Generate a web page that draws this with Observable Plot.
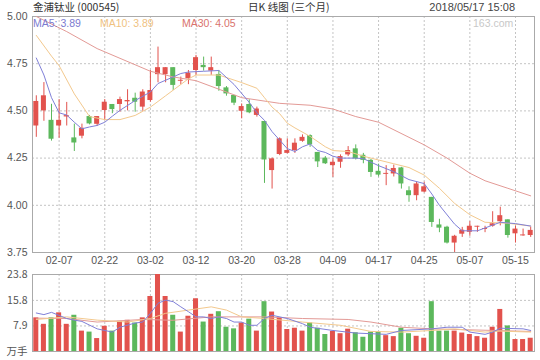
<!DOCTYPE html>
<html><head><meta charset="utf-8">
<script src="https://cdn.jsdelivr.net/npm/d3@7"></script>
<script src="https://cdn.jsdelivr.net/npm/@observablehq/plot@0.6"></script>
<style>
body{margin:0;background:#fff}
#chart{position:relative;width:540px;height:360px;background:#fff;font-family:"Liberation Sans","Noto Sans CJK SC",sans-serif;}
.t{position:absolute;white-space:nowrap;font-size:11px;line-height:14px;z-index:2}
#price,#vol{position:absolute;left:0}
</style></head>
<body>
<div id="chart">
  <div class="t" style="left:33px;top:0;color:#333;font-family:'Noto Sans CJK SC','Liberation Sans',sans-serif;font-size:10.5px">金浦钛业 (000545)</div>
  <div class="t" style="left:248px;top:0;color:#333;font-family:'Noto Sans CJK SC','Liberation Sans',sans-serif;font-size:10.5px">日K 线图 (三个月)</div>
  <div class="t" style="right:25px;top:0;color:#444">2018/05/17 15:08</div>
  <div class="t" id="l5" style="left:33px;top:16px;color:#7b7bd0;font-size:10.5px"></div>
  <div class="t" id="l10" style="left:100px;top:16px;color:#f0c27f;font-size:10.5px"></div>
  <div class="t" id="l30" style="left:182px;top:16px;color:#d9736d;font-size:10.5px"></div>
  <div class="t" style="left:473px;top:16px;color:#c8c8c8;font-size:10.5px">163.com</div>
  <div id="price" style="top:0"></div>
  <div id="vol" style="top:268px"></div>
</div>
<script>
const dates = ["02-02","02-05","02-06","02-07","02-08","02-09","02-12","02-13","02-14","02-22","02-23","02-26","02-27","02-28",
"03-01","03-02","03-05","03-06","03-07","03-08","03-09","03-12","03-13","03-14","03-15","03-16","03-19","03-20","03-21","03-22","03-23","03-26","03-27","03-28","03-29","03-30",
"04-02","04-03","04-04","04-09","04-10","04-11","04-12","04-13","04-16","04-17","04-18","04-19","04-20","04-23","04-24","04-25","04-26","04-27",
"05-02","05-03","05-04","05-07","05-08","05-09","05-10","05-11","05-14","05-15","05-16","05-17"];
const xTickLabels = ["02-07","02-22","03-02","03-12","03-20","03-28","04-09","04-17","04-25","05-07","05-15"];
const priceTicks = [3.75, 4.00, 4.25, 4.50, 4.75, 5.00];
const volTicks = [0, 7.9, 15.8, 23.8];

const open  = [4.42,4.50,4.45,4.42,4.468,4.357,4.366,4.47,4.429,4.502,4.534,4.534,4.548,4.567,4.52,4.555,4.692,4.692,4.729,4.657,4.67,4.714,4.741,4.711,4.693,4.622,4.582,4.498,4.534,4.476,4.444,4.184,4.269,4.275,4.29,4.339,4.369,4.28,4.25,4.21,4.228,4.267,4.299,4.265,4.238,4.18,4.164,4.166,4.198,4.077,4.051,4.07,4.042,3.896,3.884,3.80,3.847,3.857,3.884,3.872,3.889,3.913,3.923,3.849,3.838,3.84];
const high  = [4.58,4.65,4.535,4.56,4.545,4.43,4.43,4.476,4.47,4.56,4.534,4.573,4.612,4.594,4.612,4.714,4.838,4.729,4.729,4.679,4.714,4.794,4.785,4.785,4.714,4.629,4.582,4.537,4.559,4.52,4.444,4.251,4.357,4.352,4.352,4.373,4.373,4.28,4.258,4.246,4.267,4.311,4.32,4.275,4.244,4.218,4.21,4.213,4.201,4.098,4.122,4.122,4.042,3.926,3.889,3.841,3.883,3.913,3.889,3.889,3.966,3.99,3.923,3.889,3.874,3.884];
const low   = [4.36,4.445,4.34,4.355,4.42,4.285,4.352,4.426,4.418,4.449,4.485,4.493,4.50,4.493,4.498,4.546,4.649,4.649,4.608,4.639,4.639,4.687,4.711,4.688,4.604,4.578,4.528,4.458,4.485,4.467,4.116,4.086,4.263,4.272,4.275,4.334,4.307,4.20,4.216,4.148,4.196,4.258,4.24,4.22,4.148,4.15,4.104,4.15,4.086,4.016,4.024,4.066,3.883,3.855,3.795,3.75,3.83,3.836,3.857,3.855,3.884,3.891,3.826,3.80,3.836,3.83];
const close = [4.55,4.58,4.35,4.45,4.475,4.33,4.408,4.431,4.47,4.546,4.507,4.56,4.555,4.546,4.60,4.608,4.729,4.729,4.635,4.662,4.70,4.782,4.729,4.729,4.629,4.59,4.541,4.523,4.49,4.51,4.24,4.246,4.352,4.29,4.329,4.36,4.32,4.23,4.22,4.228,4.258,4.29,4.246,4.238,4.174,4.16,4.169,4.195,4.113,4.051,4.113,4.098,3.909,3.879,3.80,3.836,3.868,3.889,3.889,3.877,3.902,3.945,3.84,3.874,3.843,3.867];
const volume = [10.4,8.4,10.4,11.95,8.4,11.2,6.3,6.0,4.0,7.8,6.3,9.3,9.65,8.8,10.4,17.0,23.8,17.0,11.2,6.0,10.9,16.3,9.1,11.5,12.3,7.5,7.0,8.8,10.0,6.3,15.4,12.2,10.5,6.8,7.2,6.3,8.8,7.2,5.25,6.2,5.5,6.9,5.8,4.4,6.0,6.0,4.9,4.6,7.2,5.5,4.7,4.1,15.4,6.3,6.3,6.3,5.7,5.25,4.6,4.1,7.5,13.0,7.9,3.7,3.7,4.1];

// moving-average lines: [day index, value]
const ma5 = [[0,4.78],[1,4.69],[2,4.57],[3,4.49],[4,4.478],[5,4.44],[6,4.405],[7,4.415],[8,4.423],[9,4.44],[10,4.472],[11,4.503],[13,4.555],[15,4.60],[16,4.645],[18,4.68],[19,4.698],[20,4.706],[22,4.71],[24,4.714],[26,4.64],[28,4.545],[29,4.49],[30,4.45],[31,4.39],[32,4.345],[33,4.30],[34,4.285],[35,4.31],[36,4.325],[37,4.29],[38,4.28],[39,4.26],[40,4.25],[42,4.25],[43,4.247],[45,4.21],[47,4.178],[49,4.136],[51,4.115],[52,4.06],[53,4.0],[55,3.90],[56,3.865],[58,3.865],[60,3.895],[61,3.91],[63,3.903],[65,3.89]];
const ma10 = [[0,4.90],[2,4.79],[3,4.74],[5,4.59],[7,4.47],[9,4.454],[11,4.454],[13,4.476],[15,4.52],[17,4.58],[20,4.67],[21,4.69],[24,4.69],[27,4.65],[29,4.62],[30,4.57],[31,4.52],[32,4.485],[33,4.435],[34,4.41],[36,4.365],[38,4.31],[39,4.29],[41,4.285],[43,4.26],[45,4.24],[47,4.22],[49,4.20],[51,4.16],[53,4.09],[55,4.01],[57,3.95],[59,3.91],[62,3.905],[65,3.89]];
const ma30 = [[0,5.00],[4,4.92],[8,4.83],[15,4.71],[18,4.68],[21,4.66],[27,4.57],[32,4.54],[36,4.53],[39,4.51],[42,4.47],[45,4.44],[51,4.32],[54,4.25],[57,4.17],[59,4.13],[62,4.09],[65,4.05]];
const vma5 = [[0,11.9],[1,11.4],[2,12.1],[4,10.2],[5,9.7],[6,9.3],[8,7.0],[9,6.5],[10,6.0],[11,7.5],[13,8.8],[14,9.1],[15,11.8],[16,14.9],[17,15.9],[18,15.4],[19,13.8],[20,12.3],[21,10.7],[22,10.7],[23,10.2],[24,10.7],[25,10.2],[26,9.1],[27,9.1],[28,8.1],[29,8.1],[30,10.2],[31,11.2],[33,10.2],[35,8.6],[36,7.5],[39,6.5],[42,5.7],[44,5.5],[46,5.3],[48,6.5],[52,7.0],[54,7.5],[56,7.5],[57,6.0],[59,5.3],[60,6.0],[61,7.2],[64,7.0],[65,6.5]];
const vma10 = [[0,9.9],[4,10.7],[8,9.7],[12,9.1],[15,10.2],[17,11.8],[20,12.8],[23,13.8],[25,12.8],[27,10.7],[30,10.2],[35,9.1],[40,8.1],[44,6.2],[48,6.0],[52,6.5],[55,7.0],[59,6.0],[61,6.3],[65,6.0]];
const vma30 = [[0,10.3],[4,10.2],[8,9.1],[14,9.9],[18,9.65],[23,10.7],[30,10.7],[35,10.2],[41,9.9],[44,9.1],[48,7.5],[52,7.0],[57,6.7],[65,6.2]];

const RED = "#e2524d", GREEN = "#5cb85c";
const C5 = "#8080d8", C10 = "#f3c98e", C30 = "#e39a96";
const candles = dates.map((d, i) => ({i, date: d, open: open[i], high: high[i], low: low[i], close: close[i], vol: volume[i], up: close[i] >= open[i]}));
const xTicks = xTickLabels.map(l => dates.indexOf(l));

document.getElementById("l5").textContent = "MA5: " + ma5[ma5.length-1][1].toFixed(2);
document.getElementById("l10").textContent = "MA10: " + ma10[ma10.length-1][1].toFixed(2);
document.getElementById("l30").textContent = "MA30: " + ma30[ma30.length-1][1].toFixed(2);

const style = {fontFamily: "'Liberation Sans','Noto Sans CJK SC',sans-serif", fontSize: "10.5px", color: "#555", background: "transparent", overflow: "visible"};
const grid = {stroke: "#c4c4c4", strokeOpacity: 1, strokeDasharray: "2,2"};
const xdom = [-0.5, 65.5];

const price = Plot.plot({
  width: 540, height: 270, marginTop: 16, marginBottom: 18, marginLeft: 32, marginRight: 6,
  style,
  x: {domain: xdom, axis: null, label: null},
  y: {domain: [3.75, 5.0], axis: null, label: null},
  color: {type: "identity"},
  marks: [
    Plot.gridY(priceTicks, grid),
    Plot.gridX(xTicks, grid),
    Plot.frame({stroke: "#aaa"}),
    Plot.axisY(priceTicks, {anchor: "left", label: null, tickSize: 0, tickPadding: 5, tickFormat: d => d.toFixed(2)}),
    Plot.axisX(xTicks, {anchor: "bottom", label: null, tickSize: 0, tickPadding: 4, tickFormat: i => dates[i]}),
    Plot.ruleX(candles, {x: "i", y1: "low", y2: "high", stroke: d => d.up ? RED : GREEN, strokeWidth: 1}),
    Plot.rect(candles, {x1: d => d.i - 0.33, x2: d => d.i + 0.33, y1: d => Math.min(d.open, d.close), y2: d => Math.max(d.open, d.close), fill: d => d.up ? RED : GREEN}),
    Plot.line(ma30, {x: d => d[0], y: d => d[1], stroke: C30, strokeWidth: 1, clip: true}),
    Plot.line(ma10, {x: d => d[0], y: d => d[1], stroke: C10, strokeWidth: 1, clip: true}),
    Plot.line(ma5, {x: d => d[0], y: d => d[1], stroke: C5, strokeWidth: 1, clip: true})
  ]
});
document.getElementById("price").appendChild(price);

const vol = Plot.plot({
  width: 540, height: 92, marginTop: 6, marginBottom: 9, marginLeft: 32, marginRight: 6,
  style,
  x: {domain: xdom, axis: null, label: null},
  y: {domain: [0, 23.8], axis: null, label: null},
  color: {type: "identity"},
  marks: [
    Plot.gridY(volTicks, grid),
    Plot.gridX(xTicks, grid),
    Plot.frame({stroke: "#aaa"}),
    Plot.axisY(volTicks, {anchor: "left", label: null, tickSize: 0, tickPadding: 5, tickFormat: d => d === 0 ? "万手" : d.toFixed(1), fontFamily: "'Noto Sans CJK SC','Liberation Sans',sans-serif"}),
    Plot.rect(candles, {x1: d => d.i - 0.33, x2: d => d.i + 0.33, y1: d => 0, y2: "vol", fill: d => d.up ? RED : GREEN}),
    Plot.line(vma30, {x: d => d[0], y: d => d[1], stroke: C30, strokeWidth: 1}),
    Plot.line(vma10, {x: d => d[0], y: d => d[1], stroke: C10, strokeWidth: 1}),
    Plot.line(vma5, {x: d => d[0], y: d => d[1], stroke: C5, strokeWidth: 1})
  ]
});
document.getElementById("vol").appendChild(vol);
</script>
</body></html>
